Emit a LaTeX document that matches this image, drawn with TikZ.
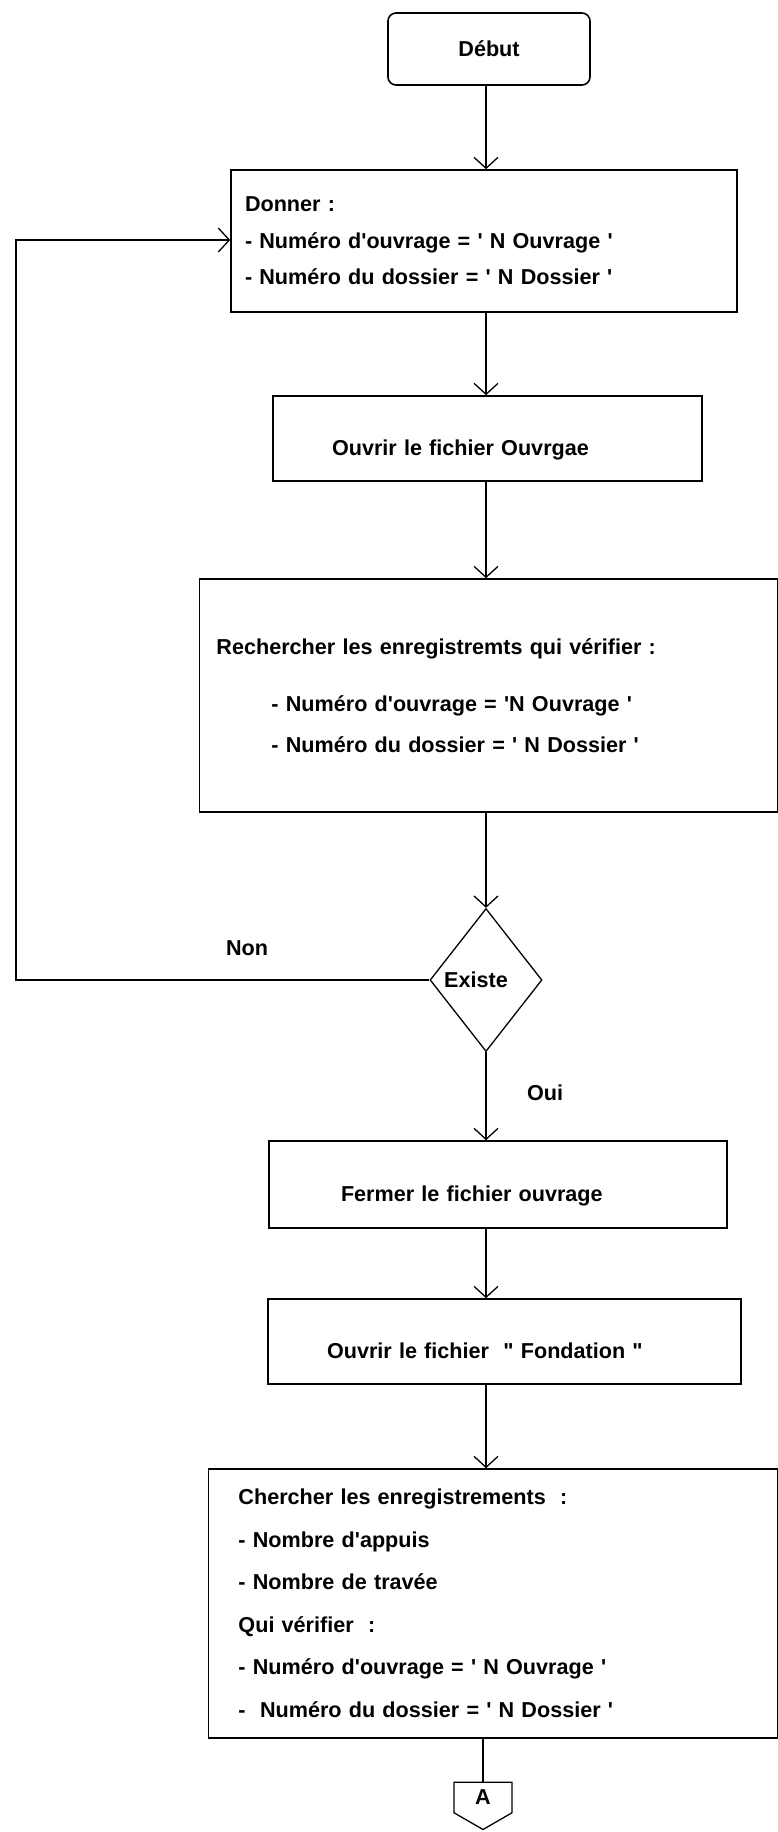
\documentclass[tikz,border=0pt]{standalone}
\usepackage{fontspec}
\setmainfont{Liberation Sans}[Ligatures=TeXOff]
\usetikzlibrary{positioning,arrows.meta,shapes.geometric,shapes.symbols}

\begin{document}
\begin{tikzpicture}[x=1bp,y=-1bp,
      font=\fontsize{21.6bp}{36.5bp}\selectfont\bfseries,
      every node/.style={inner sep=0pt},
      box/.style={draw,line width=1.6bp,rectangle,align=left},
      onebox/.style={box,text height=38bp,text depth=5bp},
      start/.style={draw,line width=1.6bp,rounded corners=8bp,minimum width=202bp,minimum height=72bp},
      test/.style={draw,line width=1.3bp,diamond,minimum width=112bp,minimum height=143bp},
      offpage/.style={draw,line width=1.3bp,signal,signal to=south,signal from=nowhere,signal pointer angle=120,minimum width=58bp,minimum height=35bp},
      flow/.style={line width=1.3bp,-{Straight Barb[length=11bp,width=24bp]}},
      link/.style={line width=1.3bp}]
    \useasboundingbox (0,0) rectangle (778,1832);
    \coordinate (spine) at (486,0);

    \node[start] (debut) at (489,49) {Début};
    \node[box,minimum width=506bp,minimum height=142bp,inner xsep=14bp,text width=478bp] (donner) at (484,241)
      {Donner :\\- Numéro d'ouvrage = ' N Ouvrage '\\- Numéro du dossier = ' N Dossier '};
    \node[onebox,minimum width=429bp,minimum height=85bp,inner xsep=59bp,text width=311bp] (ouvrir) at (487.5,438.5)
      {Ouvrir le fichier Ouvrgae};
    \node[box,minimum width=578bp,minimum height=233bp,inner xsep=17bp,text width=544bp] (rech) at (488.5,695.5)
      {Rechercher les enregistremts qui vérifier :\\[20.5bp]\hspace*{55bp}- Numéro d'ouvrage = 'N Ouvrage '\\[4.5bp]\hspace*{55bp}- Numéro du dossier = ' N Dossier '};
    \node[test] (existe) at (486,980) {Existe\hspace*{20bp}};
    \node (non) at (247,948) {Non};
    \node (oui) at (545,1093) {Oui};
    \node[onebox,minimum width=458bp,minimum height=87bp,inner xsep=72bp,text width=314bp] (fermer) at (498,1184.5)
      {Fermer le fichier ouvrage};
    \node[onebox,minimum width=473bp,minimum height=85bp,inner xsep=59bp,text width=355bp] (fond) at (504.5,1341.5)
      {Ouvrir le fichier \ " Fondation "};
    \node[box,minimum width=569bp,minimum height=269bp,inner xsep=30bp,text width=509bp] (cherch) at (493,1603.5)
      {Chercher les enregistrements \ :\\[6bp]- Nombre d'appuis\\[6bp]- Nombre de travée\\[6bp]Qui vérifier \ :\\[6bp]- Numéro d'ouvrage = ' N Ouvrage '\\[6bp]- \ Numéro du dossier = ' N Dossier '};
    \node[offpage] (conA) at (483,1797.5) {A};

    \draw[flow] (debut.south -| spine) -- (donner.north -| spine);
    \draw[flow] (donner.south -| spine) -- (ouvrir.north -| spine);
    \draw[flow] (ouvrir.south -| spine) -- (rech.north -| spine);
    \draw[flow] (rech.south -| spine) -- (existe.north);
    \draw[flow] (existe.south) -- (fermer.north -| spine);
    \draw[flow] (fermer.south -| spine) -- (fond.north -| spine);
    \draw[flow] (fond.south -| spine) -- (cherch.north -| spine);
    \draw[link] (cherch.south -| conA) -- (conA.north);
    % retour si non
    \coordinate (back) at (16,240);
    \draw[flow] (existe.west) -| (back) -- (donner.west |- back);
  \end{tikzpicture}
\end{document}
